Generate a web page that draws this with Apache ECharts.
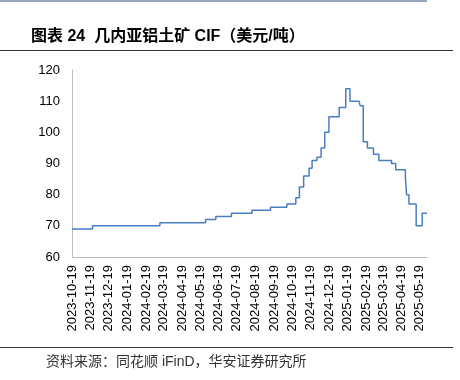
<!DOCTYPE html>
<html>
<head>
<meta charset="utf-8">
<script src="https://cdn.jsdelivr.net/npm/echarts@6/dist/echarts.min.js"></script>
<style>
  html, body { margin: 0; padding: 0; background: #fff; }
  #chart { width: 460px; height: 380px; }
</style>
</head>
<body>
<div id="chart"></div>
<script>
// price change points (date where the new level starts, USD/t)
const dates = [
  '2023-10-19', '2023-11-22', '2024-03-13', '2024-05-28', '2024-06-14',
  '2024-07-10', '2024-08-13', '2024-09-13', '2024-10-10', '2024-10-25',
  '2024-10-31', '2024-11-07', '2024-11-16', '2024-11-21', '2024-11-29',
  '2024-12-06', '2024-12-12', '2024-12-19', '2025-01-05', '2025-01-16',
  '2025-01-23', '2025-02-07', '2025-02-09', '2025-02-14', '2025-02-21',
  '2025-03-03', '2025-03-12', '2025-04-02', '2025-04-09', '2025-04-25',
  '2025-04-27', '2025-05-01', '2025-05-13', '2025-05-23', '2025-05-31'
];
const prices = [
  69, 70, 71, 72, 73,
  74, 75, 76, 77, 79,
  82.5, 86, 88.5, 91, 92,
  95, 100, 105, 108, 114,
  110, 110, 108.5, 97, 95,
  93, 91, 90, 88, 86,
  80, 77, 70, 74, 74
];
const tickDates = [
  '2023-10-19', '2023-11-19', '2023-12-19', '2024-01-19', '2024-02-19',
  '2024-03-19', '2024-04-19', '2024-05-19', '2024-06-19', '2024-07-19',
  '2024-08-19', '2024-09-19', '2024-10-19', '2024-11-19', '2024-12-19',
  '2025-01-19', '2025-02-19', '2025-03-19', '2025-04-19', '2025-05-19'
];

const toTs = s => {
  const p = s.split('-');
  return new Date(+p[0], +p[1] - 1, +p[2]).getTime();
};
const pad = n => (n < 10 ? '0' : '') + n;
const fmt = v => {
  const d = new Date(v);
  return d.getFullYear() + '-' + pad(d.getMonth() + 1) + '-' + pad(d.getDate());
};

const chart = echarts.init(document.getElementById('chart'));

chart.setOption({
  animation: false,
  textStyle: { fontFamily: 'Liberation Sans, Arial, Noto Sans CJK SC' },
  title: [
    {
      text: '图表 24  几内亚铝土矿 CIF（美元/吨）',
      left: 26,
      top: 24,
      textStyle: { fontSize: 16, fontWeight: 'bold', color: '#000', fontFamily: 'Liberation Sans, Noto Sans CJK SC' }
    },
    {
      text: '资料来源：同花顺 iFinD，华安证券研究所',
      left: 41,
      top: 350,
      textStyle: { fontSize: 14, fontWeight: 'normal', color: '#333', fontFamily: 'Liberation Sans, Noto Sans CJK SC' }
    }
  ],
  graphic: [
    { type: 'line', shape: { x1: 0, y1: 1, x2: 427, y2: 1 }, style: { stroke: '#2f4b7c', lineWidth: 1 } },
    { type: 'line', shape: { x1: 0, y1: 50.5, x2: 453, y2: 50.5 }, style: { stroke: '#333', lineWidth: 1 } },
    { type: 'line', shape: { x1: 0, y1: 347.5, x2: 453, y2: 347.5 }, style: { stroke: '#333', lineWidth: 1 } }
  ],
  grid: { left: 72, right: 33, top: 70, bottom: 123, containLabel: false },
  xAxis: {
    type: 'value',
    min: toTs(tickDates[0]),
    max: toTs('2025-05-31'),
    splitLine: { show: false },
    axisLine: { lineStyle: { color: '#bfbfbf', width: 1 } },
    axisTick: { show: false },
    axisLabel: {
      customValues: tickDates.map(toTs),
      rotate: 90,
      fontSize: 13,
      color: '#000',
      margin: 8,
      formatter: v => fmt(v)
    }
  },
  yAxis: {
    type: 'value',
    min: 60,
    max: 120,
    interval: 10,
    splitLine: { show: false },
    axisLine: { show: true, lineStyle: { color: '#bfbfbf', width: 1 } },
    axisTick: { show: false },
    axisLabel: { fontSize: 13, color: '#000', margin: 12 }
  },
  series: [
    {
      type: 'line',
      step: 'end',
      data: dates.map((d, i) => [toTs(d), prices[i]]),
      showSymbol: false,
      lineStyle: { color: '#4a7ec2', width: 1.5 }
    }
  ]
});
</script>
</body>
</html>
